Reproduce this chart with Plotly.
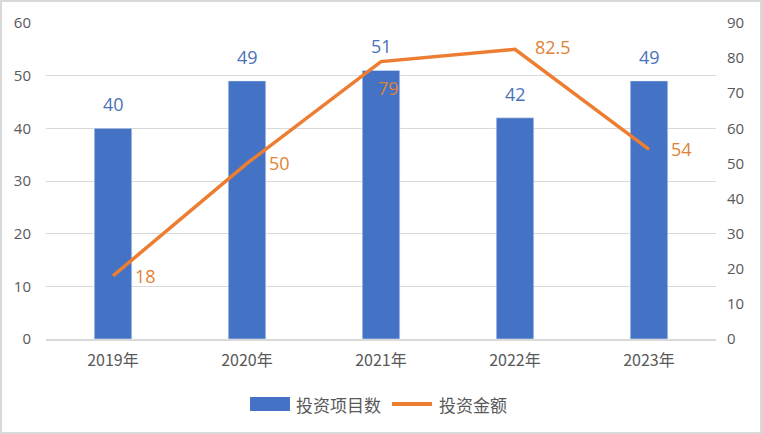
import plotly.graph_objects as go

years = ["2019年", "2020年", "2021年", "2022年", "2023年"]
projects = [40, 49, 51, 42, 49]
amounts = [18, 50, 79, 82.5, 54]
amount_labels = ["18", "50", "79", "82.5", "54"]
# label offsets (px) relative to each line point
amount_dx = [20, 20, -5, 18, 20]
amount_dy = [0, 0, -26, 2, 0]

BLUE = "#4472C4"
ORANGE = "#ED7D31"
LBL_ORANGE = "#DF8236"
LBL_BLUE = "#4A72B8"
GRAY = "#595959"
FONT = "Noto Sans CJK SC, Open Sans, sans-serif"
NUMFONT = "Open Sans, sans-serif"

fig = go.Figure()
fig.add_trace(go.Bar(
    x=years, y=projects, name="投资项目数", marker_color=BLUE, width=0.28,
    showlegend=False,
))
fig.add_trace(go.Scatter(
    x=years, y=amounts, name="投资金额", yaxis="y2", mode="lines",
    line=dict(color=ORANGE, width=3.5), showlegend=False, cliponaxis=False,
))

annotations = []
for yr, v in zip(years, projects):
    annotations.append(dict(x=yr, y=v, xref="x", yref="y", text=str(v), showarrow=False,
                            yanchor="middle", xanchor="center", yshift=24,
                            font=dict(color=LBL_BLUE, size=18, family=NUMFONT)))
for yr, v, t, dx, dy in zip(years, amounts, amount_labels, amount_dx, amount_dy):
    annotations.append(dict(x=yr, y=v, xref="x", yref="y2", text=t, showarrow=False,
                            yanchor="middle", xanchor="left", xshift=dx, yshift=dy,
                            font=dict(color=LBL_ORANGE, size=18, family=NUMFONT)))

# custom legend (paper coords; plot area is 670 x 316 px, origin at (46, 339))
def px(xp):
    return (xp - 46) / 670

def py(yp):
    return (339 - yp) / 316

annotations.append(dict(x=px(294), y=py(404), xref="paper", yref="paper", text="投资项目数",
                        showarrow=False, xanchor="left", yanchor="middle",
                        font=dict(size=17, color=GRAY, family=FONT)))
annotations.append(dict(x=px(437), y=py(404), xref="paper", yref="paper", text="投资金额",
                        showarrow=False, xanchor="left", yanchor="middle",
                        font=dict(size=17, color=GRAY, family=FONT)))

shapes = [
    dict(type="rect", xref="paper", yref="paper",
         x0=-45 / 670, x1=1 + 45 / 670, y0=-94 / 316, y1=1 + 22 / 316,
         line=dict(color="#D9D9D9", width=2), fillcolor="rgba(0,0,0,0)", layer="below"),
    dict(type="rect", xref="paper", yref="paper", x0=px(250), x1=px(290), y0=py(411), y1=py(397),
         line=dict(width=0), fillcolor=BLUE),
    dict(type="line", xref="paper", yref="paper", x0=px(392), x1=px(432), y0=py(404), y1=py(404),
         line=dict(color=ORANGE, width=4)),
]

fig.update_layout(
    width=762, height=434,
    margin=dict(l=46, r=46, t=23, b=95),
    paper_bgcolor="white", plot_bgcolor="white",
    font=dict(family=FONT, color=GRAY),
    showlegend=False,
    xaxis=dict(showgrid=False, showline=True, linecolor="#D9D9D9", linewidth=1.5,
               tickfont=dict(size=16, color=GRAY, family=FONT), ticks="",
               ticklabelstandoff=6),
    yaxis=dict(range=[0, 60], dtick=10, showgrid=True, gridcolor="#D9D9D9", gridwidth=1,
               zeroline=False, showline=False, ticks="",
               tickfont=dict(size=15, color=GRAY, family=NUMFONT),
               ticklabelstandoff=14),
    yaxis2=dict(range=[0, 90], dtick=10, overlaying="y", side="right", showgrid=False,
                zeroline=False, showline=False, ticks="",
                tickfont=dict(size=15, color=GRAY, family=NUMFONT),
                ticklabelstandoff=10),
    bargap=0.72,
    annotations=annotations,
    shapes=shapes,
)

fig.write_html("out.html")
